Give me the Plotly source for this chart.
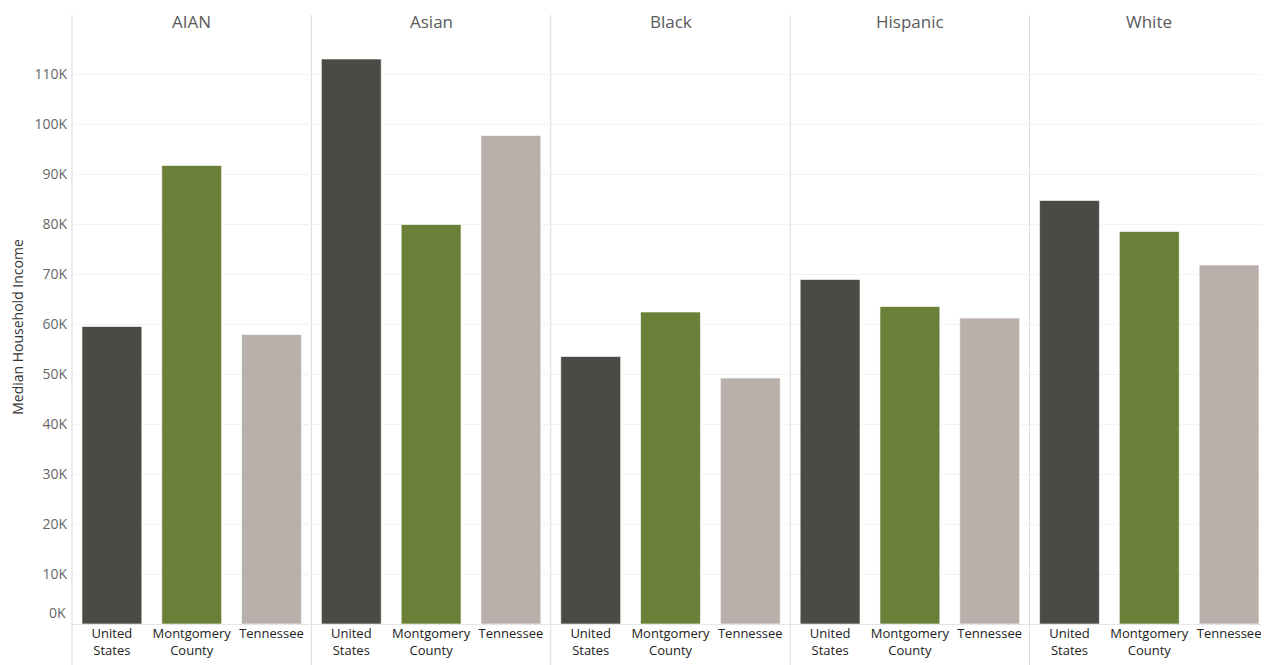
import plotly.graph_objects as go
from plotly.subplots import make_subplots

groups = ["AIAN", "Asian", "Black", "Hispanic", "White"]
locations = ["United<br>States", "Montgomery<br>County", "Tennessee"]
united_states = [59500, 113000, 53500, 68900, 84700]
montgomery_county = [91700, 79900, 62400, 63500, 78500]
tennessee = [57900, 97700, 49200, 61200, 71800]
colors = ["#4a4b44", "#6a7f37", "#bab0ab"]
y_ticks = list(range(0, 120000, 10000))
y_tick_labels = [f"{v // 1000}K" for v in y_ticks]

# page body has an 8px default margin; compensate
W, H = 1261, 657
ml, mr, mt, mb = 64, 0, 22, 41

fig = make_subplots(rows=1, cols=5, shared_yaxes=True, horizontal_spacing=0)

for i, g in enumerate(groups):
    vals = [united_states[i], montgomery_county[i], tennessee[i]]
    fig.add_trace(go.Bar(
        x=locations, y=vals,
        marker=dict(color=colors, line=dict(color="rgba(255,255,255,0.6)", width=1)),
        showlegend=False, hoverinfo="x+y",
    ), row=1, col=i + 1)
    fig.update_xaxes(
        tickfont=dict(family="Open Sans, sans-serif", size=13, color="#222"),
        showgrid=False, showline=False, ticks="", row=1, col=i + 1,
    )

# the 0K label sits just above the baseline, drawn separately
fig.update_yaxes(
    range=[0, 118800], tickvals=y_ticks[1:], ticktext=y_tick_labels[1:],
    showgrid=True, gridcolor="#f3f3f3", gridwidth=1, zeroline=True,
    zerolinecolor="#e6e6e6", zerolinewidth=1,
    tickfont=dict(family="Open Sans, sans-serif", size=14, color="#666"),
    ticks="", showline=False, ticklabelstandoff=4,
)
fig.add_annotation(
    text=y_tick_labels[0], xref="paper", yref="y", x=0, y=y_ticks[0],
    xanchor="right", yanchor="bottom", xshift=-4, yshift=0, showarrow=False,
    font=dict(family="Open Sans, sans-serif", size=14, color="#666"),
)
fig.update_yaxes(
    title=dict(text="Median Household Income", font=dict(family="Open Sans, sans-serif", size=14, color="#333"), standoff=10),
    row=1, col=1,
)

fig.update_layout(bargap=0.25)

ph = H - mt - mb
for i, g in enumerate(groups):
    fig.add_annotation(
        text=g, xref="paper", yref="paper",
        x=(i + 0.5) / 5, y=1 + (mt - 13) / ph, yanchor="middle", xanchor="center",
        showarrow=False, font=dict(family="Open Sans, sans-serif", size=17, color="#5a5a5a"),
    )
    fig.add_shape(
        type="line", xref="paper", yref="paper",
        x0=i / 5, x1=i / 5, y0=-mb / ph, y1=1 + (mt - 7) / ph,
        line=dict(color="#d9d9d9", width=1), layer="below",
    )

fig.update_layout(
    width=W, height=H,
    margin=dict(l=ml, r=mr, t=mt, b=mb),
    plot_bgcolor="white", paper_bgcolor="white",
    font=dict(family="Open Sans, sans-serif"),
)

fig.write_html("out.html")
